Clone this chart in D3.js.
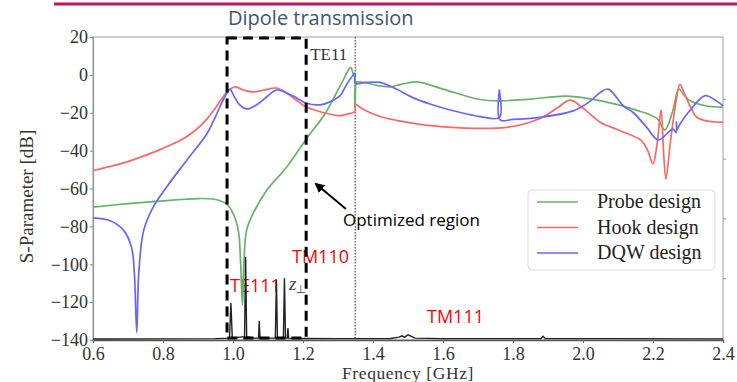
<!DOCTYPE html>
<html>
<head>
<meta charset="utf-8">
<script src="https://cdn.jsdelivr.net/npm/d3@7"></script>
<style>
  html, body { margin: 0; padding: 0; background: #fff; }
  svg { display: block; }
</style>
</head>
<body>
<div id="chart"></div>
<script>
// ---- data (frequency in GHz, S-parameter in dB) ----
const probeFreq = [0.6, 0.7, 0.8, 0.9, 0.95, 0.98, 1.0, 1.015, 1.022, 1.027, 1.031, 1.039, 1.058, 1.096, 1.153, 1.21, 1.263, 1.314, 1.336, 1.344, 1.349, 1.349, 1.352, 1.371, 1.42, 1.449, 1.48, 1.526, 1.6, 1.706, 1.763, 1.85, 1.954, 2.049, 2.15, 2.211, 2.234, 2.255, 2.274, 2.29, 2.306, 2.35, 2.4];
const probeDb   = [-69.8, -68, -66.5, -65.3, -65.8, -68, -73, -82, -100, -121.6, -100, -82, -73, -61, -48.8, -33.7, -20.5, -3, 4, 0, -2.5, -16, -4, -4, -5.8, -6.3, -5, -3.7, -7.5, -13, -13.7, -12.8, -11.2, -13.6, -18.5, -23, -29, -20, -7.5, -11, -13.7, -16.3, -17];

const hookFreq = [0.6, 0.65, 0.7, 0.763, 0.8, 0.858, 0.891, 0.925, 0.944, 0.965, 0.983, 1.006, 1.03, 1.058, 1.09, 1.125, 1.16, 1.21, 1.25, 1.306, 1.33, 1.348, 1.349, 1.37, 1.42, 1.467, 1.55, 1.65, 1.782, 1.877, 1.93, 1.963, 2.0, 2.049, 2.1, 2.167, 2.185, 2.2, 2.212, 2.223, 2.23, 2.237, 2.25, 2.265, 2.277, 2.29, 2.31, 2.326, 2.36, 2.4];
const hookDb   = [-50.5, -48.3, -45.8, -41.6, -38.8, -33.7, -29.5, -23.5, -19, -13.5, -9, -6.3, -8, -9, -8, -7, -10.5, -17, -19.5, -21.5, -20.5, -19.5, -15.5, -18, -22, -24, -26.5, -28, -27.7, -23, -17, -13.3, -17.5, -25, -29, -34.7, -40, -47, -36, -18.5, -40, -55, -35, -15, -5, -10, -18, -22.5, -24.5, -25];

const dqwFreq = [0.6, 0.649, 0.687, 0.71, 0.718, 0.725, 0.731, 0.745, 0.772, 0.81, 0.867, 0.925, 0.95, 0.97, 0.983, 0.991, 1.005, 1.02, 1.039, 1.07, 1.1, 1.125, 1.17, 1.21, 1.249, 1.28, 1.306, 1.325, 1.349, 1.349, 1.38, 1.42, 1.467, 1.514, 1.563, 1.61, 1.706, 1.761, 1.761, 1.763, 1.8, 1.877, 1.972, 2.02, 2.049, 2.072, 2.115, 2.144, 2.182, 2.215, 2.257, 2.266, 2.267, 2.268, 2.277, 2.3, 2.349, 2.375, 2.4];
const dqwDb   = [-75.5, -77, -82, -91, -104, -136, -104, -82, -69.8, -59.3, -45.3, -31.2, -22, -14, -9.5, -7.5, -12, -16, -18, -15.5, -11, -8, -11, -15, -15.8, -14, -11, -5, 1, -4.5, -4, -4, -7.5, -12, -15.4, -18, -22, -22.5, -8, -23.8, -23.5, -22.4, -19, -14, -9.3, -7.5, -16.3, -20, -27.7, -34.4, -28.6, -30.5, -25, -29, -26, -20, -11, -13, -16.3];

const fieldFreq = [0.6, 0.95, 0.99, 0.994, 0.998, 1.02, 1.033, 1.036, 1.039, 1.06, 1.073, 1.075, 1.077, 1.1, 1.121, 1.124, 1.127, 1.144, 1.147, 1.15, 1.155, 1.157, 1.159, 1.2, 1.3, 1.45, 1.475, 1.483, 1.49, 1.5, 1.52, 1.6, 1.88, 1.886, 1.892, 2.1, 2.4];
const fieldDb   = [-139.5, -139.3, -139, -120.5, -139, -138.5, -138.2, -96, -138.2, -139, -139, -129.8, -139, -139, -139, -108.4, -139, -139, -107.4, -139, -139, -133.7, -139, -139.2, -139.3, -139.2, -138.5, -137.8, -138.5, -137.3, -139, -139.3, -139.3, -138, -139.3, -139.3, -139.4];

const xTicks = [0.6, 0.8, 1.0, 1.2, 1.4, 1.6, 1.8, 2.0, 2.2, 2.4];
const yTicks = [20, 0, -20, -40, -60, -80, -100, -120, -140];
const rightTicks = [-12.6, -44.2, -75.8, -107.4];

const seriesNames = ['Probe design', 'Hook design', 'DQW design'];
const seriesColors = ['#66b366', '#ff6666', '#6666ff'];

// optimised window and TE11 cutoff
const windowFreq = [0.983, 1.209];
const windowDb = [-139, 19.5];
const te11Freq = 1.349;

// ---- drawing ----
const width = 737, height = 382;
const plot = { left: 93, right: 723, top: 37, bottom: 340 };

const svg = d3.select('#chart').append('svg')
    .attr('width', width)
    .attr('height', height);

const x = d3.scaleLinear().domain([0.6, 2.4]).range([plot.left, plot.right]);
const y = d3.scaleLinear().domain([-140, 20]).range([plot.bottom, plot.top]);

const serif = "'Liberation Serif', 'Times New Roman', serif";
const sans = "'Open Sans', 'Noto Sans', sans-serif";

// slide header
svg.append('line')
    .attr('x1', 54).attr('x2', width).attr('y1', 4).attr('y2', 4)
    .attr('stroke', '#c5105a').attr('stroke-width', 3);

svg.append('text')
    .attr('x', 228).attr('y', 25)
    .attr('font-family', sans).attr('font-size', 20)
    .attr('fill', '#44546a')
    .text('Dipole transmission');

// frame
svg.append('rect')
    .attr('x', plot.left).attr('y', plot.top)
    .attr('width', plot.right - plot.left).attr('height', plot.bottom - plot.top)
    .attr('fill', 'none').attr('stroke', '#b0b0b0').attr('stroke-width', 1.2);

const xAxis = svg.append('g')
    .attr('transform', `translate(0,${plot.bottom})`)
    .call(d3.axisBottom(x).tickValues(xTicks).tickFormat(d3.format('.1f')).tickSize(3).tickPadding(4));
xAxis.select('.domain').attr('stroke', '#555').attr('stroke-width', 1.3);
xAxis.selectAll('.tick line').attr('stroke', '#666');
xAxis.selectAll('text').attr('font-family', serif).attr('font-size', 18).attr('fill', '#333');

const yAxis = svg.append('g')
    .attr('transform', `translate(${plot.left},0)`)
    .call(d3.axisLeft(y).tickValues(yTicks).tickFormat(d => d < 0 ? '\u2212' + Math.abs(d) : String(d)).tickSize(3).tickPadding(2));
yAxis.select('.domain').attr('stroke', '#999').attr('stroke-width', 1.3);
yAxis.selectAll('.tick line').attr('stroke', '#888');
yAxis.selectAll('text').attr('font-family', serif).attr('font-size', 18).attr('fill', '#333');

const rAxis = svg.append('g')
    .attr('transform', `translate(${plot.right},0)`)
    .call(d3.axisLeft(y).tickValues(rightTicks).tickFormat('').tickSize(3));
rAxis.select('.domain').remove();
rAxis.selectAll('.tick line').attr('stroke', '#999').attr('transform', 'translate(3,0)');

svg.append('text')
    .attr('transform', `translate(33,${(plot.top + plot.bottom) / 2 + 8}) rotate(-90)`)
    .attr('text-anchor', 'middle')
    .attr('font-family', serif).attr('font-size', 19).attr('fill', '#333')
    .text('S-Parameter [dB]');

svg.append('text')
    .attr('x', 408).attr('y', 379)
    .attr('text-anchor', 'middle')
    .attr('font-family', serif).attr('font-size', 17.5).attr('fill', '#333')
    .attr('letter-spacing', 0.6)
    .text('Frequency [GHz]');

// TE11 cutoff marker
svg.append('line')
    .attr('x1', x(te11Freq)).attr('x2', x(te11Freq))
    .attr('y1', plot.top).attr('y2', plot.bottom)
    .attr('stroke', '#333').attr('stroke-width', 1)
    .attr('stroke-dasharray', '1.5,1.5');

svg.append('text')
    .attr('x', x(te11Freq) - 45).attr('y', 60)
    .attr('font-family', serif).attr('font-size', 17).attr('fill', '#333')
    .text('TE11');

// mode labels (under the field trace)
const red = '#ff0000';
svg.append('text').attr('x', 292).attr('y', 263)
    .attr('font-family', sans).attr('font-size', 18).attr('fill', red).text('TM110');
svg.append('text').attr('x', 230).attr('y', 292)
    .attr('font-family', sans).attr('font-size', 18).attr('fill', red).text('TE111');
svg.append('text').attr('x', 427).attr('y', 323)
    .attr('font-family', sans).attr('font-size', 18).attr('fill', red).text('TM111');

const zLabel = svg.append('text').attr('x', 289).attr('y', 290)
    .attr('font-family', serif).attr('font-style', 'italic').attr('font-size', 19).attr('fill', '#444');
zLabel.append('tspan').text('z');
zLabel.append('tspan').attr('dy', 3).attr('font-size', 11).attr('font-style', 'normal').text('\u22a5');

// curves
const smooth = d3.line().x(d => x(d[0])).y(d => y(d[1])).curve(d3.curveCatmullRom.alpha(0.5));
const straight = d3.line().x(d => x(d[0])).y(d => y(d[1]));
const series = [
    d3.zip(probeFreq, probeDb),
    d3.zip(hookFreq, hookDb),
    d3.zip(dqwFreq, dqwDb)
];

svg.append('g').selectAll('path')
    .data(series).enter().append('path')
    .attr('d', smooth)
    .attr('fill', 'none')
    .attr('stroke', (d, i) => seriesColors[i])
    .attr('stroke-width', 1.7)
    .attr('stroke-linejoin', 'round');

svg.append('path')
    .datum(d3.zip(fieldFreq, fieldDb))
    .attr('d', straight)
    .attr('fill', 'none')
    .attr('stroke', '#222')
    .attr('stroke-width', 1.4);

// optimised window
svg.append('rect')
    .attr('x', x(windowFreq[0])).attr('y', y(windowDb[1]))
    .attr('width', x(windowFreq[1]) - x(windowFreq[0]))
    .attr('height', y(windowDb[0]) - y(windowDb[1]))
    .attr('fill', 'none').attr('stroke', '#000')
    .attr('stroke-width', 3).attr('stroke-dasharray', '10,6');

// arrow + caption
svg.append('defs').append('marker')
    .attr('id', 'arrow-head')
    .attr('viewBox', '0 -5 10 10').attr('refX', 8).attr('refY', 0)
    .attr('markerWidth', 5).attr('markerHeight', 5).attr('orient', 'auto')
    .append('path').attr('d', 'M0,-5L10,0L0,5Z').attr('fill', '#000');

svg.append('line')
    .attr('x1', 346).attr('y1', 209).attr('x2', 316).attr('y2', 184)
    .attr('stroke', '#000').attr('stroke-width', 2)
    .attr('marker-end', 'url(#arrow-head)');

svg.append('text')
    .attr('x', 343).attr('y', 226)
    .attr('font-family', sans).attr('font-size', 17).attr('fill', '#000')
    .text('Optimized region');

// legend
const legend = svg.append('g').attr('transform', 'translate(528,190)');
legend.append('rect')
    .attr('width', 187).attr('height', 80).attr('rx', 4)
    .attr('fill', '#fff').attr('stroke', '#dcdcdc').attr('stroke-width', 1);

const items = legend.selectAll('g.item')
    .data(seriesNames).enter().append('g')
    .attr('class', 'item')
    .attr('transform', (d, i) => `translate(0,${12 + i * 25.5})`);
items.append('line')
    .attr('x1', 9).attr('x2', 50)
    .attr('stroke', (d, i) => seriesColors[i]).attr('stroke-width', 1.7);
items.append('text')
    .attr('x', 69).attr('y', 6)
    .attr('font-family', serif).attr('font-size', 20).attr('fill', '#222')
    .text(d => d);
</script>
</body>
</html>
